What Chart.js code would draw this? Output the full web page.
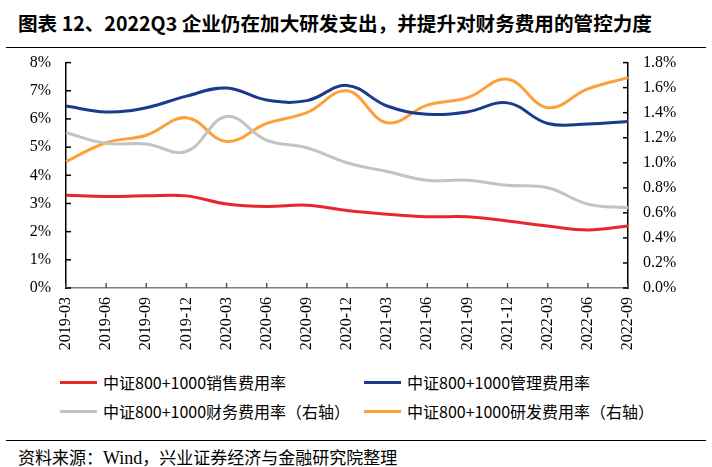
<!DOCTYPE html>
<html>
<head>
<meta charset="utf-8">
<script src="https://cdn.jsdelivr.net/npm/chart.js@4.4.0/dist/chart.umd.min.js"></script>
<style>
  body { margin: 0; background: #fff; width: 712px; height: 467px; position: relative; overflow: hidden; }
  #title { position: absolute; left: 18px; top: 8px; font: bold 19.6px "Noto Sans CJK SC", serif; color: #000; white-space: nowrap; }
  .rule { position: absolute; left: 6px; width: 700px; height: 0; border-top: 1.5px solid #000; }
  #chart { position: absolute; left: 0; top: 38px; }
  .leg { position: absolute; font: 16px "Noto Sans CJK SC", sans-serif; color: #000; white-space: nowrap; line-height: 20px; }
  .leg i { position: absolute; top: 9px; width: 37px; height: 3px; }
  .leg span { position: absolute; left: 43px; top: 0; }
  #source { position: absolute; left: 18px; top: 444px; font: 17px "Noto Sans CJK SC", serif; white-space: nowrap; }
  #source b { font: 18px "Liberation Serif", serif; font-weight: normal; }
</style>
</head>
<body>
<div id="title">图表 12、2022Q3 企业仍在加大研发支出，并提升对财务费用的管控力度</div>
<canvas id="chart" width="712" height="322"></canvas>
<div class="rule" style="top:47px"></div>
<div id="legend"></div>
<div class="rule" style="top:440px"></div>
<div id="source">资料来源：<b>Wind</b>，兴业证券经济与金融研究院整理</div>
<script>
var quarters = ['2019-03','2019-06','2019-09','2019-12','2020-03','2020-06','2020-09','2020-12',
                '2021-03','2021-06','2021-09','2021-12','2022-03','2022-06','2022-09'];

// left axis, %
var salesRate = [3.29, 3.25, 3.27, 3.27, 2.98, 2.89, 2.94, 2.75, 2.62, 2.53, 2.53, 2.38, 2.20, 2.06, 2.20];
var adminRate = [6.46, 6.25, 6.40, 6.81, 7.10, 6.67, 6.65, 7.19, 6.46, 6.17, 6.25, 6.57, 5.84, 5.82, 5.91];
// right axis, %
var financeRate = [1.24, 1.155, 1.15, 1.09, 1.37, 1.18, 1.12, 1.00, 0.93, 0.86, 0.86, 0.82, 0.80, 0.67, 0.64];
var rdRate = [1.01, 1.16, 1.22, 1.36, 1.17, 1.315, 1.40, 1.575, 1.32, 1.46, 1.52, 1.667, 1.44, 1.59, 1.68];

var leftTicks = { min: 0, max: 8, step: 1 };
var rightTicks = { min: 0, max: 1.8, step: 0.2 };

var series = [
    { label: '中证800+1000销售费用率', data: salesRate, color: '#E8262B', axis: 'y' },
    { label: '中证800+1000管理费用率', data: adminRate, color: '#1A3A8C', axis: 'y' },
    { label: '中证800+1000财务费用率（右轴）', data: financeRate, color: '#C3C3C3', axis: 'y1' },
    { label: '中证800+1000研发费用率（右轴）', data: rdRate, color: '#FF9F3A', axis: 'y1' }
];

// legend, 2 x 2
var legendPos = [[60, 372], [364, 372], [60, 401], [364, 401]];
var legendHtml = '';
series.forEach(function(s, i) {
    legendHtml += '<div class="leg" style="left:' + legendPos[i][0] + 'px;top:' + legendPos[i][1] + 'px">' +
        '<i style="background:' + s.color + '"></i><span>' + s.label + '</span></div>';
});
document.getElementById('legend').innerHTML = legendHtml;

// small inward tick marks on all three axes
var innerTicks = {
    id: 'innerTicks',
    afterDraw: function(chart) {
        var ctx = chart.ctx, area = chart.chartArea;
        ctx.save();
        ctx.lineWidth = 1.5;
        ctx.strokeStyle = '#000';
        ['y', 'y1'].forEach(function(id) {
            var sc = chart.scales[id];
            var x = id === 'y' ? area.left : area.right;
            var d = id === 'y' ? 5 : -5;
            sc.ticks.forEach(function(t) {
                var py = sc.getPixelForValue(t.value);
                ctx.beginPath(); ctx.moveTo(x, py); ctx.lineTo(x + d, py); ctx.stroke();
            });
        });
        var xs = chart.scales.x;
        ctx.strokeStyle = '#555';
        xs.ticks.forEach(function(t, i) {
            var px = xs.getPixelForTick(i);
            ctx.beginPath(); ctx.moveTo(px, area.bottom); ctx.lineTo(px, area.bottom - 5); ctx.stroke();
        });
        ctx.restore();
    }
};

var tickFont = { family: '"Liberation Serif", "Times New Roman", serif', size: 16 };

new Chart(document.getElementById('chart').getContext('2d'), {
    type: 'line',
    data: {
        labels: quarters,
        datasets: series.map(function(s) {
            return {
                label: s.label,
                data: s.data,
                yAxisID: s.axis,
                borderColor: s.color,
                backgroundColor: s.color,
                borderWidth: 3,
                pointRadius: 0,
                tension: 0.4,
                fill: false
            };
        })
    },
    options: {
        responsive: false,
        animation: false,
        layout: { padding: { top: 0, left: 0, right: 0, bottom: 0 } },
        plugins: { legend: { display: false }, tooltip: { enabled: false } },
        scales: {
            x: {
                offset: false,
                grid: { display: false, drawTicks: false },
                border: { display: true, color: '#7f7f7f', width: 1.5 },
                ticks: { color: '#000', font: tickFont, maxRotation: 90, minRotation: 90, padding: 9, autoSkip: false },
                afterFit: function(sc) { sc.height = 72; }
            },
            y: {
                position: 'left',
                min: leftTicks.min, max: leftTicks.max,
                grid: { display: false, drawTicks: false },
                border: { display: true, color: '#000', width: 1.5 },
                ticks: { stepSize: leftTicks.step, color: '#000', font: tickFont, padding: 15,
                         callback: function(v) { return v + '%'; } },
                afterFit: function(sc) { sc.width = 66; }
            },
            y1: {
                position: 'right',
                min: rightTicks.min, max: rightTicks.max,
                grid: { display: false, drawTicks: false },
                border: { display: true, color: '#000', width: 1.5 },
                ticks: { stepSize: rightTicks.step, color: '#000', font: tickFont, padding: 15,
                         callback: function(v) { return v.toFixed(1) + '%'; } },
                afterFit: function(sc) { sc.width = 84; }
            }
        }
    },
    plugins: [innerTicks]
});
</script>
</body>
</html>
